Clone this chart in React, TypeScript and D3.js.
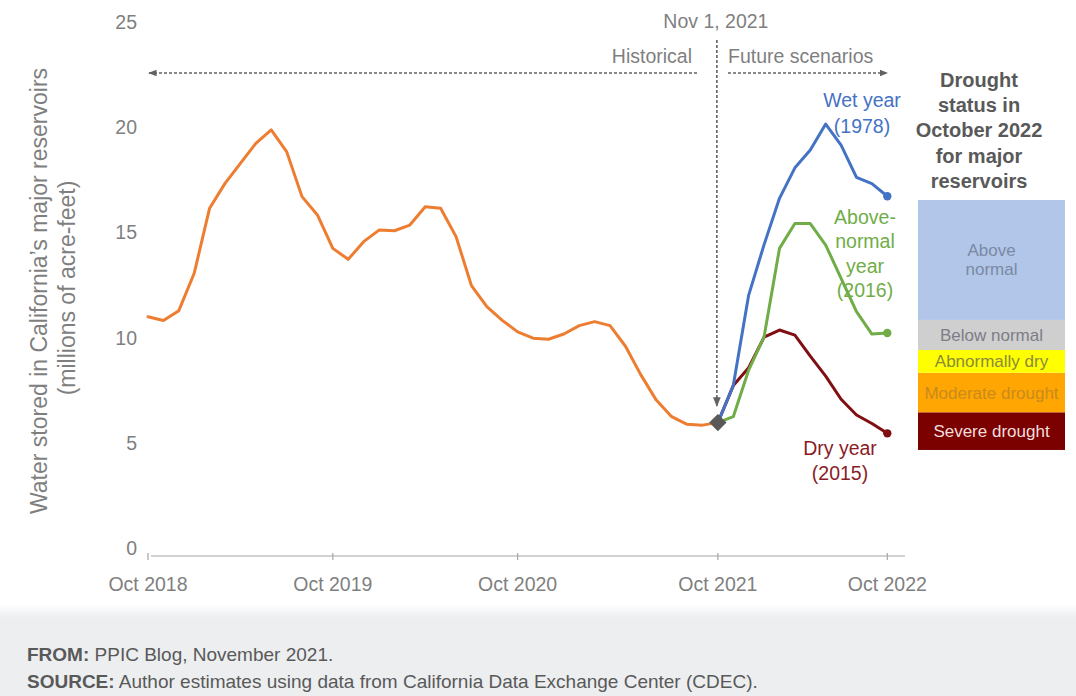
import React from "react";
import * as d3 from "d3";

// Monthly storage in California's major reservoirs (millions of acre-feet)
// Month index 0 = Oct 2018; index 37 = Nov 1, 2021; index 48 = Oct 2022.
const historicalStorage = [
  11.37, 11.19, 11.66, 13.44, 16.53, 17.71, 18.66, 19.61, 20.25, 19.22,
  17.08, 16.21, 14.62, 14.1, 14.94, 15.49, 15.46, 15.73, 16.6, 16.53,
  15.18, 12.85, 11.85, 11.2, 10.65, 10.35, 10.3, 10.55, 10.95, 11.14,
  10.95, 9.97, 8.61, 7.41, 6.62, 6.26, 6.22, 6.34,
];
const historicalStartMonth = 0;
const scenarioStartMonth = 37;

const wetYear1978 = [6.34, 8.1, 12.4, 14.8, 17.0, 18.45, 19.3, 20.53, 19.53, 18.0, 17.7, 17.1];
const aboveNormal2016 = [6.34, 6.62, 8.84, 10.42, 14.62, 15.8, 15.8, 14.78, 13.2, 11.61, 10.55, 10.6];
const dryYear2015 = [6.34, 8.1, 8.95, 10.4, 10.74, 10.5, 9.5, 8.55, 7.45, 6.7, 6.3, 5.83];

const yTicks = [0, 5, 10, 15, 20, 25];
const xTickMonths = [0, 12, 24, 37, 48];
const xTickLabels = ["Oct 2018", "Oct 2019", "Oct 2020", "Oct 2021", "Oct 2022"];

// Drought status bands, bottom to top, on the storage scale
const droughtNames = [["Severe drought"], ["Moderate drought"], ["Abnormally dry"], ["Below normal"], ["Above", "normal"]];
const droughtBreaks = [5.04, 6.83, 8.71, 9.79, 11.22, 16.92];
const droughtFills = ["#7b0000", "#ffa602", "#ffff00", "#d0cfcf", "#b1c6e8"];
const droughtTextColors = ["#f3dede", "#c98a1e", "#8b8a3c", "#7c7d86", "#7b89a4"];

const W = 1076;
const H = 696;
const FONT = "'Liberation Sans', Arial, Helvetica, sans-serif";
const GRAY = "#7f7f7f";
const DASH = "#626262";

const COLORS = {
  historical: "#ed7d31",
  wet: "#4472c4",
  above: "#70ad47",
  dry: "#7f0f12",
  dryText: "#8a1c26",
};

const x = d3.scaleLinear().domain([0, 48]).range([148, 887.3]);
const y = d3.scaleLinear().domain([0, 25]).range([556, 30]);

function seriesPath(values: number[], start: number) {
  return (
    d3
      .line<number>()
      .x((_, i) => x(start + i))
      .y((d) => y(d))
      .curve(d3.curveLinear)(values) || ""
  );
}

function EndDot({ values, color }: { values: number[]; color: string }) {
  const last = values.length - 1;
  return <circle cx={x(scenarioStartMonth + last)} cy={y(values[last])} r={4.2} fill={color} />;
}

export default function App() {
  const axisY = y(0);
  const novX = x(scenarioStartMonth);
  const diamond = d3.symbol().type(d3.symbolSquare).size(150)() || "";
  const boxX0 = 918;
  const boxX1 = 1065;
  const boxMid = (boxX0 + boxX1) / 2;

  return (
    <svg
      width={W}
      height={H}
      viewBox={`0 0 ${W} ${H}`}
      style={{ position: "absolute", left: 0, top: 0, background: "#ffffff" }}
      fontFamily={FONT}
    >
      <defs>
        <marker id="arrowL" viewBox="0 0 10 10" refX="1" refY="5" markerWidth="6" markerHeight="6" orient="auto">
          <path d="M10,1 L0,5 L10,9 Z" fill={DASH} />
        </marker>
        <marker id="arrowR" viewBox="0 0 10 10" refX="9" refY="5" markerWidth="6" markerHeight="6" orient="auto">
          <path d="M0,1 L10,5 L0,9 Z" fill={DASH} />
        </marker>
        <linearGradient id="footerFade" x1="0" y1="0" x2="0" y2="1">
          <stop offset="0" stopColor="#ffffff" />
          <stop offset="1" stopColor="#eceef0" />
        </linearGradient>
      </defs>

      <rect x={0} y={0} width={W} height={H} fill="#ffffff" />

      {/* Y axis title */}
      <g fill={GRAY} fontSize={23}>
        <text transform={`translate(47,291) rotate(-90)`} textAnchor="middle">
          Water stored in California’s major reservoirs
        </text>
        <text transform={`translate(75,288) rotate(-90)`} textAnchor="middle">
          (millions of acre-feet)
        </text>
      </g>

      {/* Y tick labels */}
      <g fill={GRAY} fontSize={19.5} textAnchor="end">
        {yTicks.map((t) => (
          <text key={t} x={137} y={y(t) - 1}>
            {t}
          </text>
        ))}
      </g>

      {/* X axis */}
      <line x1={x(0) + 3} x2={905} y1={axisY} y2={axisY} stroke="#a6a6a6" strokeWidth={1.2} />
      {xTickMonths.map((m, i) => (
        <g key={m}>
          <line x1={x(m)} x2={x(m)} y1={axisY - 3} y2={axisY + 4} stroke="#a6a6a6" strokeWidth={1.2} />
          <text x={x(m)} y={591} textAnchor="middle" fill={GRAY} fontSize={19.5}>
            {xTickLabels[i]}
          </text>
        </g>
      ))}

      {/* Period annotations */}
      <text x={novX - 2} y={28} textAnchor="middle" fill={GRAY} fontSize={19.5}>
        Nov 1, 2021
      </text>
      <text x={692} y={63} textAnchor="end" fill={GRAY} fontSize={19.5}>
        Historical
      </text>
      <text x={728} y={63} textAnchor="start" fill={GRAY} fontSize={19.5}>
        Future scenarios
      </text>
      <line
        x1={x(0) + 1}
        x2={697}
        y1={73}
        y2={73}
        stroke={DASH}
        strokeWidth={1.4}
        strokeDasharray="3 2"
        markerStart="url(#arrowL)"
      />
      <line
        x1={728}
        x2={x(48)}
        y1={73}
        y2={73}
        stroke={DASH}
        strokeWidth={1.4}
        strokeDasharray="3 2"
        markerEnd="url(#arrowR)"
      />
      <line
        x1={novX - 1}
        x2={novX - 1}
        y1={40}
        y2={406}
        stroke={DASH}
        strokeWidth={1.6}
        strokeDasharray="3 2"
        markerEnd="url(#arrowR)"
      />

      {/* Series */}
      <g fill="none" strokeWidth={3} strokeLinejoin="round" strokeLinecap="round">
        <path d={seriesPath(historicalStorage, historicalStartMonth)} stroke={COLORS.historical} />
        <path d={seriesPath(dryYear2015, scenarioStartMonth)} stroke={COLORS.dry} />
        <path d={seriesPath(aboveNormal2016, scenarioStartMonth)} stroke={COLORS.above} />
        <path d={seriesPath(wetYear1978, scenarioStartMonth)} stroke={COLORS.wet} />
      </g>
      <EndDot values={wetYear1978} color={COLORS.wet} />
      <EndDot values={aboveNormal2016} color={COLORS.above} />
      <EndDot values={dryYear2015} color={COLORS.dry} />
      <path
        d={diamond}
        transform={`translate(${x(scenarioStartMonth)},${y(historicalStorage[historicalStorage.length - 1])}) rotate(45)`}
        fill="#595959"
      />

      {/* Scenario labels */}
      <g fontSize={19.5} textAnchor="middle">
        <text x={862} y={107} fill={COLORS.wet}>Wet year</text>
        <text x={862} y={133} fill={COLORS.wet}>(1978)</text>
        <text x={865} y={224} fill={COLORS.above}>Above-</text>
        <text x={865} y={248} fill={COLORS.above}>normal</text>
        <text x={865} y={273} fill={COLORS.above}>year</text>
        <text x={865} y={297} fill={COLORS.above}>(2016)</text>
        <text x={840} y={455} fill={COLORS.dryText}>Dry year</text>
        <text x={840} y={480} fill={COLORS.dryText}>(2015)</text>
      </g>

      {/* Drought status panel */}
      <g fontSize={20} fontWeight="bold" fill="#595959" textAnchor="middle">
        {["Drought", "status in", "October 2022", "for major", "reservoirs"].map((s, i) => (
          <text key={s} x={979} y={87 + i * 25.2}>
            {s}
          </text>
        ))}
      </g>
      {droughtNames.map((lines, i) => {
        const top = y(droughtBreaks[i + 1]);
        const bottom = y(droughtBreaks[i]);
        const mid = (top + bottom) / 2;
        const lh = 19;
        return (
          <g key={i}>
            <rect x={boxX0} y={top} width={boxX1 - boxX0} height={bottom - top} fill={droughtFills[i]} />
            {lines.map((ln, j) => (
              <text
                key={ln}
                x={boxMid}
                y={mid + (j - (lines.length - 1) / 2) * lh + 6}
                textAnchor="middle"
                fontSize={17}
                fill={droughtTextColors[i]}
              >
                {ln}
              </text>
            ))}
          </g>
        );
      })}

      {/* Footer */}
      <rect x={0} y={604} width={W} height={14} fill="url(#footerFade)" />
      <rect x={0} y={618} width={W} height={H - 618} fill="#eceef0" />
      <g fontSize={19} fill="#595959">
        <text x={27} y={661}>
          <tspan fontWeight="bold">FROM:</tspan> PPIC Blog, November 2021.
        </text>
        <text x={27} y={688}>
          <tspan fontWeight="bold">SOURCE:</tspan> Author estimates using data from California Data Exchange Center (CDEC).
        </text>
      </g>
    </svg>
  );
}
